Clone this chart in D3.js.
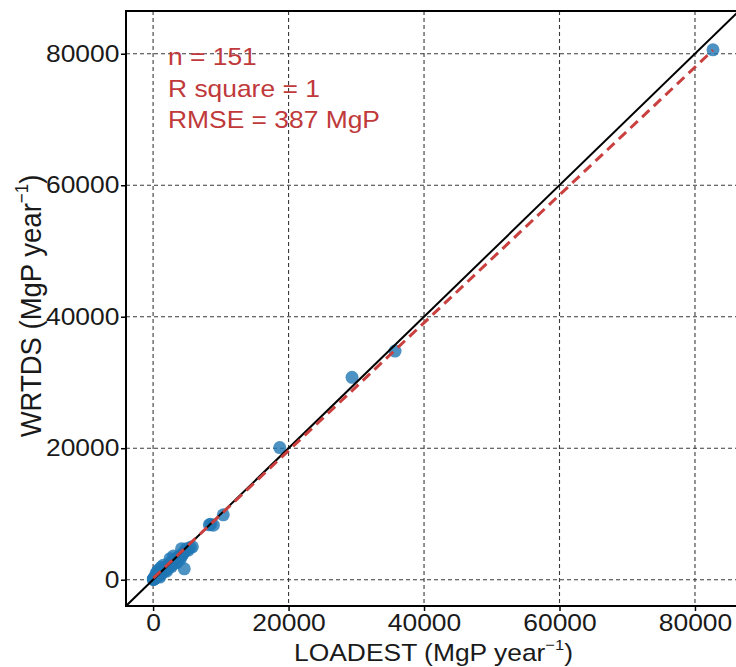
<!DOCTYPE html>
<html>
<head>
<meta charset="utf-8">
<script src="https://cdn.jsdelivr.net/npm/d3@7"></script>
<style>
  html, body { margin: 0; padding: 0; background: #ffffff; }
  svg { display: block; font-family: "Liberation Sans", Arial, sans-serif; }
</style>
</head>
<body>
<svg id="chart" width="736" height="667"></svg>
<script>
// ---------- data ----------
const loadest = [
  82660, 35720, 29370, 18700, 10360, 8900, 8500, 8300,
  5500, 5200, 4900, 4700, 4500, 4400, 4100, 3900, 3700, 3600, 3400, 3200,
  3000, 2900, 2700, 2500, 2400, 2200, 2000, 1900, 1700, 1600, 1500, 1400,
  1300, 1200, 1100, 1000, 900, 800, 700, 600, 500, 400, 300, 250, 200, 150,
  100, 80, 50, 30, 4600, 4200, 3500, 2800, 2300, 1800, 1200, 900, 600, 350,
  5800, 4000, 3100, 2600, 2100, 1700, 1300, 1000, 700, 450, 200, 100,
  3000, 2500, 1500, 800, 4200, 2000, 3500, 1200, 600, 2700, 1000, 400
];
const wrtds = [
  80590, 34780, 30780, 20090, 9870, 8300, 8450, 8350,
  4900, 4500, 4700, 4300, 4100, 3900, 3700, 3500, 3300, 3400, 3100, 3000,
  2800, 2700, 2600, 2300, 2500, 2100, 2000, 1700, 1800, 1500, 1400, 1300,
  1400, 1100, 1000, 1100, 800, 900, 600, 700, 500, 450, 300, 200, 250, 150,
  120, 60, 80, 40, 1650, 3600, 2700, 2300, 1900, 1400, 1100, 700, 500, 300,
  5000, 3100, 2500, 2200, 1700, 1500, 1000, 800, 500, 400, 150, 200,
  3600, 3200, 2200, 1500, 4700, 1300, 2600, 1900, 1200, 2000, 400, 900
];
const xTicks = [0, 20000, 40000, 60000, 80000];
const yTicks = [0, 20000, 40000, 60000, 80000];
const axisDomain = [-4000, 86500];
const fitIntercept = 200;
const fitSlope = 0.972;
const statLines = ["n = 151", "R square = 1", "RMSE = 387 MgP"];

// ---------- layout ----------
const svg = d3.select("#chart");
const pL = 126, pR = 739, pT = 11, pB = 606;
const stretch = 1.1;   // text in the reference is slightly wide

const x = d3.scaleLinear().domain(axisDomain).range([pL, pR]);
const y = d3.scaleLinear().domain(axisDomain).range([pB, pT]);

const clipId = "plotclip";
svg.append("defs").append("clipPath").attr("id", clipId)
  .append("rect").attr("x", pL).attr("y", pT)
  .attr("width", pR - pL).attr("height", pB - pT);

// grid
const grid = svg.append("g").attr("clip-path", `url(#${clipId})`);
grid.selectAll("line.gx").data(xTicks).join("line").attr("class", "gx")
  .attr("x1", d => x(d)).attr("x2", d => x(d))
  .attr("y1", pT).attr("y2", pB)
  .attr("stroke", "#3a3a3a").attr("stroke-width", 1.1)
  .attr("stroke-dasharray", "4,3");
grid.selectAll("line.gy").data(yTicks).join("line").attr("class", "gy")
  .attr("y1", d => y(d)).attr("y2", d => y(d))
  .attr("x1", pL).attr("x2", pR)
  .attr("stroke", "#3a3a3a").attr("stroke-width", 1.1)
  .attr("stroke-dasharray", "4,3");

// points
const plot = svg.append("g").attr("clip-path", `url(#${clipId})`);
const pts = loadest.map((v, i) => [v, wrtds[i]]);
plot.selectAll("circle").data(pts).join("circle")
  .attr("cx", d => x(d[0])).attr("cy", d => y(d[1]))
  .attr("r", 6.5)
  .attr("fill", "#1f77b4").attr("fill-opacity", 0.8);

// 1:1 line
plot.append("line")
  .attr("x1", x(axisDomain[0])).attr("y1", y(axisDomain[0]))
  .attr("x2", x(axisDomain[1])).attr("y2", y(axisDomain[1]))
  .attr("stroke", "#000").attr("stroke-width", 2);

// fit line
const xmin = d3.min(loadest), xmax = d3.max(loadest);
plot.append("line")
  .attr("x1", x(xmin)).attr("y1", y(fitIntercept + fitSlope * xmin))
  .attr("x2", x(xmax)).attr("y2", y(fitIntercept + fitSlope * xmax))
  .attr("stroke", "#c9403f").attr("stroke-width", 3)
  .attr("stroke-dasharray", "10,6");

// axes
const xAxis = d3.axisBottom(x).tickValues(xTicks).tickFormat(d3.format("d")).tickSize(5).tickPadding(2);
const yAxis = d3.axisLeft(y).tickValues(yTicks).tickFormat(d3.format("d")).tickSize(5).tickPadding(1);

const gx = svg.append("g").attr("transform", `translate(0,${pB})`).call(xAxis);
const gy = svg.append("g").attr("transform", `translate(${pL},0)`).call(yAxis);
[gx, gy].forEach(g => {
  g.select(".domain").remove();
  g.selectAll(".tick line").attr("stroke", "#000").attr("stroke-width", 1.5);
  g.selectAll(".tick text").attr("font-size", 24).attr("fill", "#1a1a1a")
    .attr("font-family", "Liberation Sans, Arial, sans-serif")
    .attr("transform", `scale(${stretch},1)`);
});
gx.selectAll(".tick text").attr("dy", "0.71em").attr("y", 8);

// frame (left, top, bottom; right is outside the window)
svg.append("path")
  .attr("d", `M${pR},${pT}H${pL}V${pB}H${pR}`)
  .attr("fill", "none").attr("stroke", "#000").attr("stroke-width", 2);

// axis labels
const xl = svg.append("text")
  .attr("transform", `translate(${(pL + pR) / 2 + 1},661) scale(${stretch},1)`)
  .attr("text-anchor", "middle").attr("font-size", 24).attr("fill", "#1a1a1a");
xl.append("tspan").text("LOADEST (MgP year");
xl.append("tspan").attr("font-size", 15).attr("dy", -11).text("−1");
xl.append("tspan").attr("dy", 11).text(")");

const yl = svg.append("text")
  .attr("transform", `translate(41,306) scale(${stretch},1) rotate(-90)`)
  .attr("text-anchor", "middle").attr("font-size", 27.5).attr("fill", "#1a1a1a");
yl.append("tspan").text("WRTDS (MgP year");
yl.append("tspan").attr("font-size", 17).attr("dy", -12).text("−1");
yl.append("tspan").attr("dy", 12).text(")");

// stats annotation
svg.append("g").selectAll("text").data(statLines).join("text")
  .attr("transform", (d, i) => `translate(168,${65 + i * 31.5}) scale(${stretch},1)`)
  .attr("font-size", 24).attr("fill", "#c0393b")
  .text(d => d);
</script>
</body>
</html>
